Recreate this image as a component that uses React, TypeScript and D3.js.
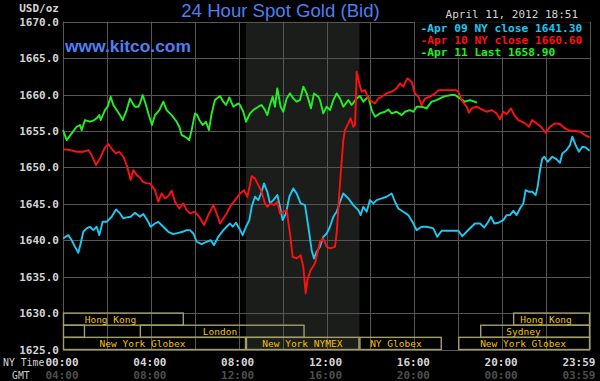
import React from "react";
import * as d3 from "d3";

const W = 600;
const H = 381;

// Series: [hour of NY day, price]
const apr09: [number, number][] = [
  [0, 1640.24], [0.242, 1640.7], [0.394, 1640.01], [0.546, 1639.1], [0.698, 1638.27], [0.804, 1639.56],
  [0.926, 1641.16], [1.077, 1641.62], [1.229, 1641.85], [1.381, 1641.39], [1.533, 1641.85], [1.654, 1640.7],
  [1.806, 1642.53], [1.988, 1642.53], [2.216, 1643.22], [2.413, 1644.23], [2.595, 1643.68], [2.747, 1642.99],
  [2.899, 1643.13], [3.081, 1643.22], [3.278, 1643.77], [3.506, 1643.22], [3.658, 1643.59], [3.84, 1642.76],
  [3.992, 1641.85], [4.189, 1642.3], [4.341, 1642.53], [4.568, 1641.85], [4.796, 1641.16], [5.024, 1640.84],
  [5.252, 1641.02], [5.449, 1641.16], [5.631, 1641.39], [5.783, 1641.39], [5.935, 1640.93], [6.087, 1639.79],
  [6.314, 1639.47], [6.542, 1639.79], [6.724, 1640.01], [6.876, 1639.33], [7.073, 1640.47], [7.301, 1641.39],
  [7.453, 1641.85], [7.604, 1642.3], [7.726, 1641.85], [7.878, 1642.4], [8.029, 1641.62], [8.181, 1640.7],
  [8.333, 1641.85], [8.485, 1642.76], [8.591, 1644.59], [8.743, 1645.97], [8.895, 1645.51], [9.047, 1646.65],
  [9.153, 1647.8], [9.305, 1646.65], [9.426, 1645.05], [9.578, 1645.51], [9.76, 1646.2], [9.882, 1644.59],
  [10.003, 1642.76], [10.155, 1643.68], [10.306, 1645.97], [10.488, 1647.11], [10.64, 1646.42], [10.822, 1645.05],
  [11.02, 1644.82], [11.172, 1641.85], [11.323, 1638.64], [11.43, 1637.5], [11.551, 1638.41], [11.703, 1639.1],
  [11.855, 1640.47], [12.007, 1640.93], [12.158, 1641.85], [12.31, 1643.22], [12.462, 1643.91], [12.614, 1645.28],
  [12.766, 1646.42], [12.993, 1645.74], [13.221, 1644.82], [13.449, 1644.14], [13.555, 1643.45], [13.676, 1644.59],
  [13.828, 1643.91], [13.98, 1645.51], [14.132, 1645.05], [14.283, 1645.51], [14.511, 1645.74], [14.739, 1645.97],
  [14.967, 1646.42], [15.118, 1645.28], [15.27, 1644.36], [15.498, 1643.91], [15.725, 1643.45], [15.953, 1642.3],
  [16.105, 1641.39], [16.333, 1641.85], [16.56, 1641.85], [16.864, 1641.62], [17.046, 1640.47], [17.243, 1641.3],
  [17.775, 1641.3], [18.003, 1641.3], [18.185, 1640.56], [18.382, 1641.16], [18.61, 1641.85], [18.762, 1642.3],
  [18.99, 1642.3], [19.187, 1641.75], [19.369, 1642.53], [19.49, 1643.22], [19.642, 1642.3], [19.824, 1642.4],
  [20.052, 1642.76], [20.204, 1643.45], [20.356, 1643.45], [20.507, 1644.04], [20.659, 1643.45], [20.811, 1644.36],
  [20.963, 1645.05], [21.069, 1646.88], [21.221, 1646.65], [21.373, 1646.65], [21.525, 1646.2], [21.616, 1647.34],
  [21.722, 1649.63], [21.828, 1651.23], [21.919, 1651.46], [22.071, 1650.77], [22.283, 1651.46], [22.481, 1651.1],
  [22.633, 1650.64], [22.739, 1651.92], [22.936, 1652.38], [23.088, 1653.06], [23.194, 1654.21], [23.346, 1653.06],
  [23.498, 1652.15], [23.649, 1652.84], [23.801, 1652.74], [23.983, 1652.29],
];

const apr10: [number, number][] = [
  [0, 1652.47], [0.318, 1652.38], [0.622, 1652.15], [0.926, 1652.15], [1.153, 1652.38], [1.305, 1651.69],
  [1.502, 1650.32], [1.684, 1651.23], [1.912, 1652.74], [2.064, 1653.2], [2.261, 1652.38], [2.413, 1651.92],
  [2.565, 1652.15], [2.747, 1651.46], [2.899, 1650.32], [3.081, 1648.26], [3.202, 1649.63], [3.354, 1648.94],
  [3.506, 1648.62], [3.627, 1648.03], [3.809, 1647.8], [3.961, 1647.8], [4.189, 1646.88], [4.341, 1645.28],
  [4.493, 1646.42], [4.644, 1645.74], [4.796, 1646.06], [4.948, 1646.79], [5.1, 1645.28], [5.297, 1644.36],
  [5.479, 1645.05], [5.631, 1644.14], [5.783, 1643.68], [6.011, 1643.91], [6.208, 1643.22], [6.421, 1642.07],
  [6.618, 1643.45], [6.846, 1644.82], [6.997, 1643.68], [7.149, 1642.3], [7.301, 1642.99], [7.453, 1643.68],
  [7.604, 1644.59], [7.832, 1645.51], [8.06, 1646.42], [8.242, 1646.88], [8.394, 1645.97], [8.515, 1647.57],
  [8.591, 1648.8], [8.743, 1648.48], [8.895, 1647.57], [9.047, 1646.65], [9.198, 1645.05], [9.305, 1644.59],
  [9.457, 1645.05], [9.608, 1644.82], [9.76, 1645.28], [9.882, 1643.68], [10.033, 1643.91], [10.185, 1644.14],
  [10.337, 1640.93], [10.458, 1637.72], [10.64, 1637.5], [10.822, 1637.95], [10.944, 1636.35], [11.05, 1632.69],
  [11.126, 1634.52], [11.278, 1635.89], [11.475, 1636.81], [11.703, 1639.79], [11.855, 1640.24], [12.007, 1639.1],
  [12.158, 1638.87], [12.386, 1639.1], [12.462, 1640.93], [12.583, 1646.42], [12.659, 1649.63], [12.766, 1653.75],
  [12.841, 1655.12], [12.993, 1656.04], [13.099, 1656.75], [13.221, 1655.58], [13.297, 1655.81], [13.342, 1659.7],
  [13.373, 1663.14], [13.494, 1661.53], [13.6, 1660.39], [13.752, 1660.62], [13.904, 1659.47], [14.056, 1659.02],
  [14.208, 1658.79], [14.359, 1659.47], [14.511, 1659.7], [14.739, 1660.16], [14.967, 1660.39], [15.194, 1660.85],
  [15.346, 1661.53], [15.498, 1661.08], [15.68, 1662.22], [15.877, 1661.76], [16.029, 1660.16], [16.181, 1659.7],
  [16.333, 1658.56], [16.485, 1659.47], [16.712, 1659.7], [16.94, 1660.16], [17.1, 1660.6], [17.775, 1660.6],
  [17.9, 1660.6], [18.003, 1660.4], [18.155, 1659.24], [18.382, 1658.33], [18.489, 1657.5], [18.61, 1658.1],
  [18.838, 1658.33], [19.065, 1657.96], [19.293, 1657.64], [19.521, 1657.87], [19.748, 1657.41], [19.9, 1656.59],
  [20.052, 1657.64], [20.204, 1657.32], [20.401, 1658.1], [20.553, 1657.18], [20.735, 1656.5], [20.887, 1656.27],
  [21.039, 1656.04], [21.221, 1655.58], [21.373, 1656.5], [21.57, 1656.04], [21.767, 1655.58], [21.98, 1654.76],
  [22.177, 1655.58], [22.405, 1656.04], [22.633, 1655.95], [22.86, 1655.35], [23.088, 1655.03], [23.316, 1655.03],
  [23.543, 1654.9], [23.771, 1654.44], [23.983, 1654.12],
];

const apr11: [number, number][] = [
  [0, 1655.12], [0.167, 1653.75], [0.394, 1654.67], [0.622, 1655.58], [0.774, 1655.81], [0.85, 1655.12],
  [1.001, 1656.5], [1.229, 1656.27], [1.381, 1656.41], [1.533, 1656.75], [1.654, 1657.18], [1.715, 1656.5],
  [1.912, 1657.87], [2.034, 1658.33], [2.17, 1659.7], [2.292, 1658.56], [2.443, 1657.87], [2.595, 1657.18],
  [2.717, 1656.5], [2.899, 1657.87], [3.051, 1659.47], [3.172, 1658.79], [3.278, 1658.33], [3.43, 1658.33],
  [3.506, 1658.79], [3.627, 1659.93], [3.779, 1658.56], [3.931, 1656.96], [4.052, 1655.81], [4.189, 1657.18],
  [4.386, 1657.87], [4.568, 1659.02], [4.72, 1657.87], [4.948, 1657.18], [5.176, 1656.27], [5.297, 1655.58],
  [5.403, 1654.44], [5.555, 1654.21], [5.752, 1653.75], [5.859, 1655.12], [6.011, 1657.41], [6.117, 1657.18],
  [6.208, 1656.5], [6.36, 1655.81], [6.512, 1656.27], [6.648, 1655.12], [6.77, 1657.41], [6.921, 1659.24],
  [7.149, 1659.79], [7.301, 1659.02], [7.422, 1658.56], [7.574, 1659.61], [7.756, 1658.33], [7.984, 1658.79],
  [8.06, 1658.56], [8.212, 1657.64], [8.333, 1656.27], [8.515, 1657.41], [8.667, 1657.87], [8.895, 1658.33],
  [9.047, 1658.56], [9.198, 1657.87], [9.305, 1657.18], [9.426, 1658.56], [9.547, 1659.7], [9.654, 1658.33],
  [9.76, 1660.85], [9.912, 1658.33], [10.033, 1657.64], [10.185, 1659.47], [10.337, 1660.16], [10.488, 1659.47],
  [10.64, 1659.02], [10.792, 1659.24], [10.944, 1661.08], [11.096, 1660.16], [11.293, 1658.1], [11.43, 1660.16],
  [11.627, 1659.7], [11.703, 1659.24], [11.855, 1657.41], [12.007, 1658.33], [12.158, 1657.87], [12.31, 1659.24],
  [12.462, 1660.16], [12.614, 1659.47], [12.766, 1658.33], [12.993, 1659.24], [13.145, 1658.56], [13.373, 1659.47],
  [13.525, 1659.79], [13.676, 1659.02], [13.904, 1659.7], [14.056, 1657.87], [14.208, 1656.96], [14.435, 1657.41],
  [14.663, 1657.64], [14.815, 1657.96], [14.967, 1657.41], [15.194, 1657.64], [15.422, 1657.18], [15.574, 1657.64],
  [15.801, 1657.87], [15.953, 1657.64], [16.105, 1658.33], [16.333, 1658.33], [16.56, 1658.1], [16.788, 1659.02],
  [17.016, 1659.24], [17.167, 1659.47], [17.395, 1659.79], [17.699, 1659.93], [17.851, 1659.93], [18.079, 1659.47],
  [18.306, 1659.02], [18.534, 1659.24], [18.85, 1658.9],
];

const series = [
  { data: apr09, color: "#1ec8f0", label: "-Apr 09 NY close 1641.30" },
  { data: apr11, color: "#22f022", label: "-Apr 11 Last 1658.90" },
  { data: apr10, color: "#ff1010", label: "-Apr 10 NY close 1660.60" },
];
const legendOrder = [0, 2, 1];

const yTicks = [1625, 1630, 1635, 1640, 1645, 1650, 1655, 1660, 1665, 1670];
const xTickHours = [0, 4, 8, 12, 16, 20, 24];
const nyLabels = ["00:00", "04:00", "08:00", "12:00", "16:00", "20:00", "23:59"];
const gmtLabels = ["04:00", "08:00", "12:00", "16:00", "20:00", "00:00", "03:59"];

const nymexOpen = 8.333;
const nymexClose = 13.5;

const sessions = [
  { name: "Hong Kong", row: 0, start: 0, end: 5.5, labelAt: 2.16 },
  { name: "Hong Kong", row: 0, start: 20.5, end: 24, labelAt: 22.0 },
  { name: "", row: 1, start: 0, end: 1, labelAt: 0.5 },
  { name: "London", row: 1, start: 3.5, end: 11, labelAt: 7.15 },
  { name: "Sydney", row: 1, start: 19, end: 24, labelAt: 20.97 },
  { name: "New York Globex", row: 2, start: 0, end: nymexOpen, labelAt: 3.62 },
  { name: "New York NYMEX", row: 2, start: nymexOpen, end: nymexClose, labelAt: 10.9 },
  { name: "NY Globex", row: 2, start: nymexClose, end: 17.25, labelAt: 15.16 },
  { name: "New York Globex", row: 2, start: 18, end: 24, labelAt: 20.95 },
];

const MONO = "'DejaVu Sans Mono', 'Liberation Mono', monospace";
const SANS = "'Liberation Sans', Arial, sans-serif";

export default function App() {
  const left = 63;
  const right = 590;
  const top = 21.7;
  const bottom = 349.5;

  const x = d3.scaleLinear().domain([0, 24]).range([left, right]);
  const y = d3.scaleLinear().domain([1625, 1670]).range([bottom, top]);

  const line = d3
    .line<[number, number]>()
    .x((d) => x(d[0]))
    .y((d) => y(d[1]));

  const gridH = d3.range(0, 25, 2);
  const rowH = (y(1625) - y(1630)) / 3;

  return (
    <svg
      width={W}
      height={H}
      style={{ position: "absolute", left: 0, top: 0, display: "block", background: "#000" }}
    >
      <rect x={0} y={0} width={W} height={H} fill="#000" />
      {/* NYMEX shading */}
      <rect
        x={x(nymexOpen)}
        y={top}
        width={x(nymexClose) - x(nymexOpen)}
        height={bottom - top}
        fill="#1b1d1b"
      />
      {/* grid */}
      {yTicks.map((v) => (
        <line
          key={"h" + v}
          x1={left}
          x2={right}
          y1={Math.round(y(v)) + 0.5}
          y2={Math.round(y(v)) + 0.5}
          stroke="#565656"
          strokeWidth={1}
        />
      ))}
      {gridH.map((h) => (
        <line
          key={"v" + h}
          x1={Math.round(x(h)) + 0.5}
          x2={Math.round(x(h)) + 0.5}
          y1={top}
          y2={bottom}
          stroke="#565656"
          strokeWidth={1}
        />
      ))}
      {/* sessions */}
      {sessions.map((s, i) => {
        const y0 = y(1630) + s.row * rowH;
        return (
          <g key={"s" + i}>
            <rect
              x={x(s.start) + 0.5}
              y={y0}
              width={x(s.end) - x(s.start) - 1}
              height={rowH}
              fill="none"
              stroke="#a39d6c"
              strokeWidth={1.4}
            />
            {s.name && (
              <text
                x={x(s.labelAt)}
                y={y0 + rowH / 2 + 3.5}
                textAnchor="middle"
                fill="#f2c400"
                fontFamily={MONO}
                fontSize={9.5}
              >
                {s.name}
              </text>
            )}
          </g>
        );
      })}
      {/* series */}
      {series.map((s, i) => (
        <path
          key={"p" + i}
          d={line(s.data) || ""}
          fill="none"
          stroke={s.color}
          strokeWidth={1.9}
          strokeLinejoin="round"
        />
      ))}
      {/* legend */}
      <rect x={415} y={top + 0.5} width={right - 415 - 0.5} height={35} fill="#000" />
      {legendOrder.map((si, i) => (
        <text
          key={"l" + i}
          x={420.5}
          y={31.5 + i * 12.1}
          fill={series[si].color}
          fontFamily={MONO}
          fontWeight="bold"
          fontSize={11.2}
        >
          {series[si].label}
        </text>
      ))}
      {/* y axis labels */}
      {yTicks.map((v) => (
        <text
          key={"yl" + v}
          x={59}
          y={y(v) + 4}
          textAnchor="end"
          fill="#d4d4d4"
          fontFamily={MONO}
          fontWeight="bold"
          fontSize={11}
        >
          {v.toFixed(1)}
        </text>
      ))}
      <text x={59} y={11.5} textAnchor="end" fill="#d4d4d4" fontFamily={MONO} fontWeight="bold" fontSize={11}>
        USD/oz
      </text>
      {/* x axis labels */}
      {xTickHours.map((h, i) => {
        const last = i === xTickHours.length - 1;
        return (
          <g key={"xl" + h}>
            <text
              x={last ? 595.5 : x(h) - 1}
              y={365.5}
              textAnchor={last ? "end" : "middle"}
              fill="#d4d4d4"
              fontFamily={MONO}
              fontWeight="bold"
              fontSize={11}
            >
              {nyLabels[i]}
            </text>
            <text
              x={last ? 595.5 : x(h) - 1}
              y={378.5}
              textAnchor={last ? "end" : "middle"}
              fill="#4e4e4e"
              fontFamily={MONO}
              fontWeight="bold"
              fontSize={11}
            >
              {gmtLabels[i]}
            </text>
          </g>
        );
      })}
      <text x={3} y={365.5} fill="#d4d4d4" fontFamily={MONO} fontSize={9.8}>
        NY Time
      </text>
      <text x={12} y={378.5} fill="#c8c8c8" fontFamily={MONO} fontSize={9.8}>
        GMT
      </text>
      {/* titles */}
      <text x={280.5} y={17} textAnchor="middle" fill="#4f7ff2" fontFamily={SANS} fontSize={18.6}>
        24 Hour Spot Gold (Bid)
      </text>
      <text x={65} y={52} fill="#4f7ff2" fontFamily={SANS} fontWeight="bold" fontSize={17.4}>
        www.kitco.com
      </text>
      <text x={578} y={18} textAnchor="end" fill="#d4d4d4" fontFamily={MONO} fontSize={11}>
        April 11, 2012 18:51
      </text>
    </svg>
  );
}
